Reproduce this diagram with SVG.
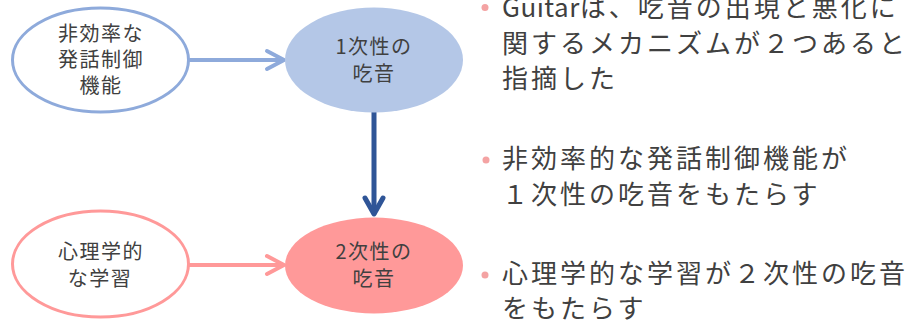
<svg xmlns="http://www.w3.org/2000/svg" width="912" height="325" viewBox="0 0 912 325">
<style>
.n{font-family:"Noto Sans CJK JP","Noto Sans",sans-serif;font-size:20px;fill:#404040;text-anchor:middle;letter-spacing:1.5px}
.b{font-family:"Noto Sans CJK JP","Noto Sans",sans-serif;font-size:26px;fill:#404040;letter-spacing:3px}
.dot{fill:#F4A3A3}
.line{fill:none;stroke-linecap:round;stroke-linejoin:round}
</style>
<rect width="912" height="325" fill="#ffffff"/>
<g id="connectors">
<g id="e1">
<line class="line" x1="190" y1="60" x2="282" y2="60" stroke="#8EAADB" stroke-width="4"/>
<polyline class="line" points="267,51 284,60 267,69" stroke="#8EAADB" stroke-width="4"/>
</g>
<g id="e2">
<line class="line" x1="374" y1="112" x2="374" y2="213" stroke="#2F5597" stroke-width="5"/>
<polyline class="line" points="365,198 374,214 383,198" stroke="#2F5597" stroke-width="5"/>
</g>
<g id="e3">
<line class="line" x1="189" y1="265" x2="282" y2="265" stroke="#FF9999" stroke-width="4"/>
<polyline class="line" points="267,256 284,265 267,274" stroke="#FF9999" stroke-width="4"/>
</g>
</g>
<g id="n1">
<ellipse cx="100.5" cy="60" rx="88" ry="52" fill="#ffffff" stroke="#8EAADB" stroke-width="3"/>
<text class="n" x="101" y="40.5">非効率な</text>
<text class="n" x="101" y="66.5">発話制御</text>
<text class="n" x="101" y="93">機能</text>
</g>
<g id="n2">
<ellipse cx="374" cy="60" rx="89" ry="52.5" fill="#B4C7E7"/>
<text class="n" x="374" y="54">1次性の</text>
<text class="n" x="374" y="80.5">吃音</text>
</g>
<g id="n3">
<ellipse cx="100.5" cy="264" rx="88" ry="53" fill="#ffffff" stroke="#FF9999" stroke-width="3"/>
<text class="n" x="101" y="259">心理学的</text>
<text class="n" x="100" y="285.5">な学習</text>
</g>
<g id="n4">
<ellipse cx="374" cy="265.5" rx="89" ry="48" fill="#FF9999"/>
<text class="n" x="374" y="259">2次性の</text>
<text class="n" x="374" y="285.5">吃音</text>
</g>
<g id="bullets">
<circle class="dot" cx="485" cy="7.5" r="3.5"/>
<text class="b" x="502" y="17"><tspan letter-spacing="0.5px">Guitar</tspan>は、吃音の出現と悪化に</text>
<text class="b" x="502" y="52.5">関するメカニズムが２つあると</text>
<text class="b" x="502" y="88">指摘した</text>
<circle class="dot" cx="486" cy="160" r="3.5"/>
<text class="b" x="502" y="168">非効率的な発話制御機能が</text>
<text class="b" x="502" y="203.5">１次性の吃音をもたらす</text>
<circle class="dot" cx="485" cy="275" r="3.5"/>
<text class="b" x="502" y="283">心理学的な学習が２次性の吃音</text>
<text class="b" x="502" y="318">をもたらす</text>
</g>
</svg>
